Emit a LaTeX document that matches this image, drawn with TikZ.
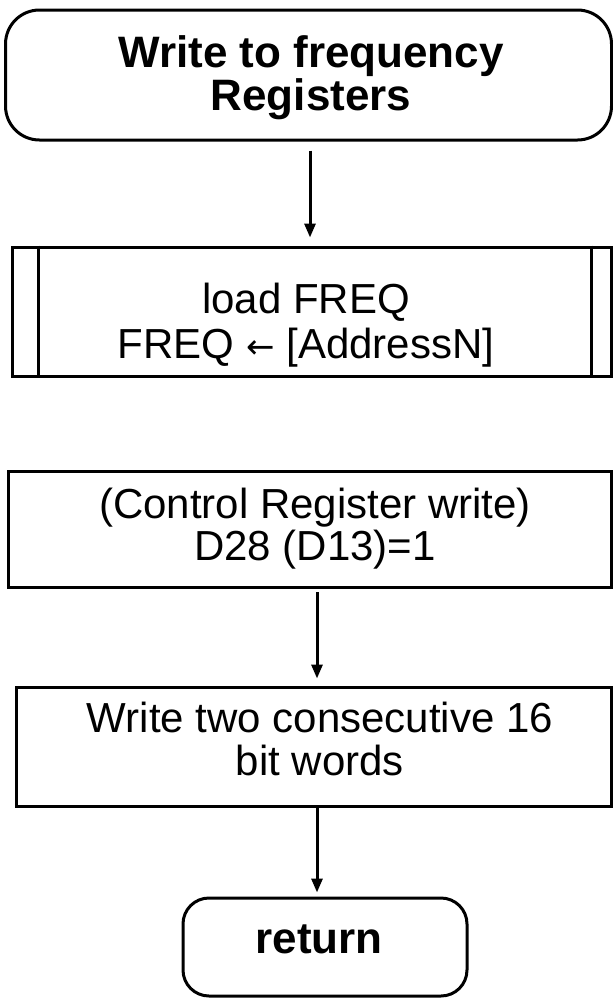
\documentclass[tikz,border=0pt]{standalone}
\usepackage{fontspec}
\setmainfont{Liberation Sans}
\newfontfamily\arrowfont{DejaVu Sans}
\usetikzlibrary{arrows.meta}
\begin{document}
\begin{tikzpicture}[x=1pt,y=1pt,
  boxst/.style={draw, line width=3pt, rectangle, inner sep=0pt},
  termst/.style={boxst, rounded corners=#1},
  txtreg/.style={font=\fontsize{42}{46}\selectfont, anchor=base, inner sep=0pt},
  txtbold/.style={font=\fontsize{44}{48}\selectfont\bfseries, anchor=base, inner sep=0pt},
  flow/.style={line width=3pt, -{Triangle[length=14pt,width=11pt]}}]
\useasboundingbox (0,0) rectangle (613,-999);

% start terminal
\node[termst=34pt, minimum width=606pt, minimum height=130pt] (top) at (308.5,-75) {};
\node[txtbold] (t1a) at (311,-67) {Write to frequency};
\node[txtbold] (t1b) at (311,-110) {Registers};

% predefined process
\node[boxst, minimum width=599pt, minimum height=129pt] (b2) at (312,-311.5) {};
\draw[line width=3pt] ([xshift=27pt]b2.north west) -- ([xshift=27pt]b2.south west);
\draw[line width=3pt] ([xshift=-22pt]b2.north east) -- ([xshift=-22pt]b2.south east);
\node[txtreg] (t2a) at (306,-313) {load FREQ};
\node[txtreg] (t2b) at (306,-358) {FREQ {\arrowfont\fontsize{34}{40}\selectfont ←} [AddressN]};

% control register box
\node[boxst, minimum width=603pt, minimum height=116pt] (b3) at (310,-529.5) {};
\node[txtreg] (t3a) at (315,-518) {(Control Register write)};
\node[txtreg] (t3b) at (315,-560) {D28 (D13)=1};

% write words box
\node[boxst, minimum width=595pt, minimum height=119pt] (b4) at (314,-746.5) {};
\node[txtreg] (t4a) at (320,-732) {Write two consecutive 16};
\node[txtreg] (t4b) at (320,-775) {bit words};

% return terminal
\node[termst=26pt, minimum width=284pt, minimum height=98pt] (ret) at (325,-947) {};
\node[txtbold] (t5) at (319,-953) {return};

% connectors
\draw[flow, shorten <=9pt, shorten >=8pt] ([xshift=1.5pt]top.south) -- ([xshift=1.5pt]top.south |- b2.north);
\draw[flow, shorten <=3pt, shorten >=7pt] ([xshift=7pt]b3.south) -- ([xshift=7pt]b3.south |- b4.north);
\draw[flow, shorten >=4pt] ([xshift=3pt]b4.south) -- ([xshift=3pt]b4.south |- ret.north);
\end{tikzpicture}
\end{document}
